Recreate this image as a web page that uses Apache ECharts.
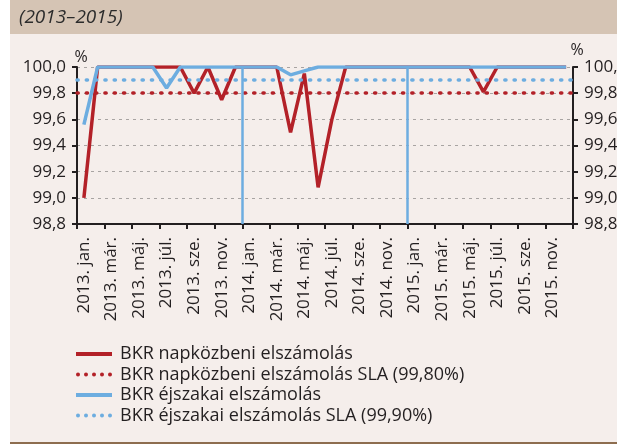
<!DOCTYPE html>
<html>
<head>
<meta charset="utf-8">
<script src="https://cdn.jsdelivr.net/npm/echarts@6/dist/echarts.min.js"></script>
<style>
  html, body { margin: 0; padding: 0; background: #fff; }
  #chart { width: 617px; height: 446px; }
</style>
</head>
<body>
<div id="chart"></div>
<script>
// havi kategóriák 2013. jan. – 2015. dec.
const years = ['2013', '2014', '2015'];
const monthNames = ['jan.', 'febr.', 'már.', 'ápr.', 'máj.', 'jún.', 'júl.', 'aug.', 'sze.', 'okt.', 'nov.', 'dec.'];
const categories = [];
years.forEach(y => monthNames.forEach(m => categories.push(y + '. ' + m)));

// BKR napközbeni elszámolás (%)
const dayValues = [
  99.0, 100, 100, 100, 100, 100, 100, 100, 99.80, 100, 99.75, 100,
  100, 100, 100, 99.50, 99.95, 99.08, 99.60, 100, 100, 100, 100, 100,
  100, 100, 100, 100, 100, 99.81, 100, 100, 100, 100, 100, 100
];
// BKR éjszakai elszámolás (%)
const nightValues = [
  99.56, 100, 100, 100, 100, 100, 99.84, 100, 100, 100, 100, 100,
  100, 100, 100, 99.94, 99.97, 100, 100, 100, 100, 100, 100, 100,
  100, 100, 100, 100, 100, 100, 100, 100, 100, 100, 100, 100
];
// SLA szintek
const slaDay = [99.8];
const slaNight = [99.9];
// évhatárok (hónapindex)
const yearBreaks = [12, 24];

const names = [
  'BKR napközbeni elszámolás',
  'BKR napközbeni elszámolás SLA (99,80%)',
  'BKR éjszakai elszámolás',
  'BKR éjszakai elszámolás SLA (99,90%)'
];

const RED = '#b32128';
const BLUE = '#6dade0';
const TXT = '#231f20';
const FONT = 'Open Sans';

// jelmagyarázat ikonok
const ICON_SOLID = 'path://M0,0H36V4H0Z';
const ICON_DOTS = 'path://M0,2a2,2 0 1,0 4,0a2,2 0 1,0 -4,0Z' +
  'M8,2a2,2 0 1,0 4,0a2,2 0 1,0 -4,0Z' +
  'M16,2a2,2 0 1,0 4,0a2,2 0 1,0 -4,0Z' +
  'M24,2a2,2 0 1,0 4,0a2,2 0 1,0 -4,0Z' +
  'M32,2a2,2 0 1,0 4,0a2,2 0 1,0 -4,0Z';

const DOTTED = [1.2, 8.1];

let myEcharts = echarts.init(document.getElementById('chart'));

const yAxisBase = {
  type: 'value',
  min: 98.8,
  max: 100,
  interval: 0.2,
  name: '%',
  nameLocation: 'end',
  nameGap: 2,
  nameTextStyle: { color: TXT, fontFamily: FONT, fontSize: 16, padding: [0, 0, 0, 8] },
  axisLine: { show: true, lineStyle: { color: TXT, width: 2 } },
  axisTick: { show: true, length: 5, lineStyle: { color: TXT, width: 2 } },
  axisLabel: {
    color: TXT, fontFamily: FONT, fontSize: 17, margin: 11,
    formatter: v => v.toFixed(1).replace('.', ',')
  }
};

let option = {
  backgroundColor: '#fff',
  animation: false,
  graphic: [
    { type: 'rect', z: -10, shape: { x: 10, y: 0, width: 607, height: 34 }, style: { fill: '#d5c4b4' } },
    { type: 'rect', z: -10, shape: { x: 10, y: 34, width: 607, height: 408 }, style: { fill: '#f5eeeb' } },
    { type: 'rect', z: -10, shape: { x: 10, y: 442, width: 607, height: 2 }, style: { fill: '#8d6d4f' } }
  ],
  title: {
    text: '(2013–2015)',
    left: 14,
    top: 3,
    textStyle: { fontFamily: FONT, fontSize: 19, fontStyle: 'italic', fontWeight: 'normal', color: '#2b2b2b' }
  },
  grid: { left: 77, right: 44, top: 67, bottom: 222, containLabel: false, outerBoundsMode: 'none' },
  legend: {
    data: [
      { name: names[0], icon: ICON_SOLID },
      { name: names[1], icon: ICON_DOTS },
      { name: names[2], icon: ICON_SOLID },
      { name: names[3], icon: ICON_DOTS }
    ],
    orient: 'vertical',
    left: 71,
    top: 340,
    itemWidth: 36,
    itemHeight: 10,
    itemGap: 2.5,
    symbolKeepAspect: true,
    textStyle: { color: TXT, fontFamily: FONT, fontSize: 18, padding: [0, 0, 0, 3] }
  },
  xAxis: [
    {
      type: 'category',
      data: categories,
      boundaryGap: true,
      axisLine: { lineStyle: { color: TXT, width: 2 } },
      axisTick: { show: true, interval: 1, length: 5, lineStyle: { color: TXT, width: 2 } },
      axisLabel: { interval: 1, rotate: 90, margin: 13, color: TXT, fontFamily: FONT, fontSize: 17 },
      splitLine: { show: false }
    },
    { type: 'value', min: 0, max: categories.length, show: false }
  ],
  yAxis: [
    Object.assign({}, yAxisBase, {
      position: 'left',
      splitLine: { show: true, lineStyle: { color: '#a8a4a2', width: 1, type: [3, 4] } }
    }),
    Object.assign({}, yAxisBase, { position: 'right', splitLine: { show: false } })
  ],
  series: [
    {
      name: names[0], type: 'line', data: dayValues, symbol: 'none', z: 4,
      lineStyle: { color: RED, width: 3.5 }, itemStyle: { color: RED }
    },
    {
      name: names[1], type: 'line', data: [], symbol: 'none', z: 1,
      lineStyle: { color: RED, width: 3.5, type: DOTTED, cap: 'round' }, itemStyle: { color: RED },
      markLine: {
        silent: true, symbol: 'none', label: { show: false },
        lineStyle: { color: RED, width: 3.5, type: DOTTED, cap: 'round' },
        data: slaDay.map(v => ({ yAxis: v }))
      }
    },
    {
      name: names[2], type: 'line', data: nightValues, symbol: 'none', z: 5,
      lineStyle: { color: BLUE, width: 3.5 }, itemStyle: { color: BLUE }
    },
    {
      name: names[3], type: 'line', data: [], symbol: 'none', z: 1,
      lineStyle: { color: BLUE, width: 3.5, type: DOTTED, cap: 'round' }, itemStyle: { color: BLUE },
      markLine: {
        silent: true, symbol: 'none', label: { show: false },
        lineStyle: { color: BLUE, width: 3.5, type: DOTTED, cap: 'round' },
        data: slaNight.map(v => ({ yAxis: v }))
      }
    },
    {
      type: 'line', xAxisIndex: 1, yAxisIndex: 0, data: [], symbol: 'none', z: 2,
      markLine: {
        silent: true, symbol: 'none', label: { show: false },
        lineStyle: { color: BLUE, width: 2.5, type: 'solid' },
        data: yearBreaks.map(v => ({ xAxis: v }))
      }
    }
  ]
};

myEcharts.setOption(option);
</script>
</body>
</html>
